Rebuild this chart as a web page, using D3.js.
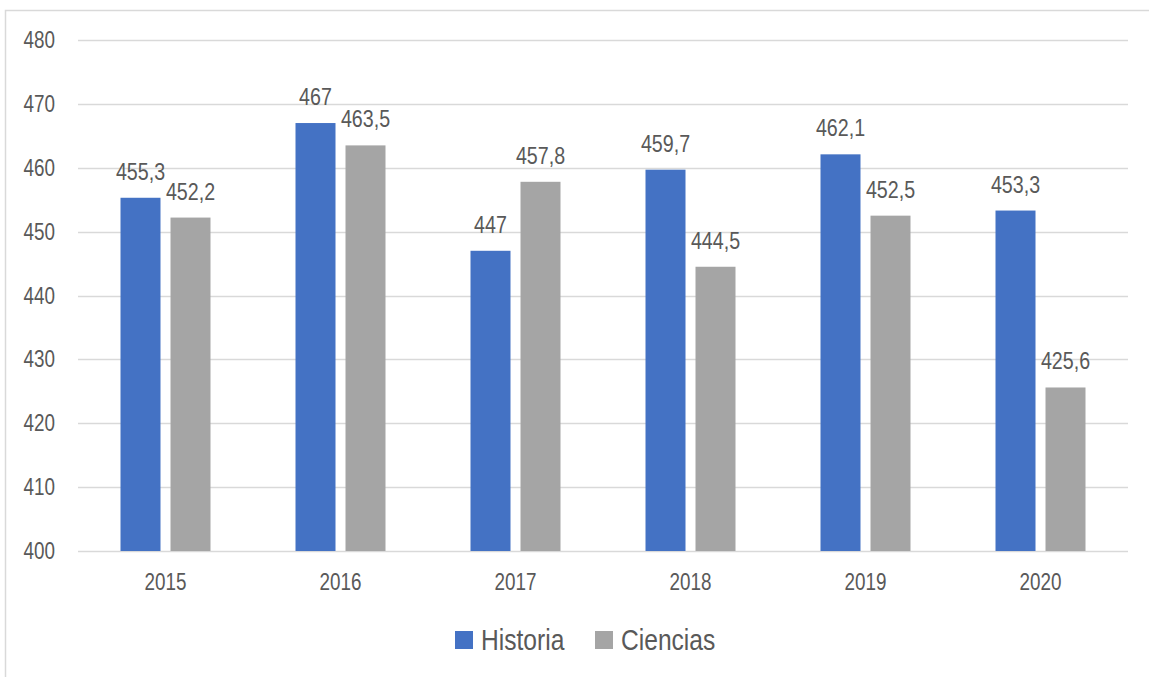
<!DOCTYPE html>
<html>
<head>
<meta charset="utf-8">
<script src="https://cdn.jsdelivr.net/npm/d3@7"></script>
<style>
  body { margin: 0; background: #fff; }
  svg text { font-family: "Liberation Sans", Arial, sans-serif; fill: #595959; }
</style>
</head>
<body>
<div id="chart"></div>
<script>
// Chart data
const years = ["2015", "2016", "2017", "2018", "2019", "2020"];
const historia = [455.3, 467, 447, 459.7, 462.1, 453.3];
const ciencias = [452.2, 463.5, 457.8, 444.5, 452.5, 425.6];
const seriesNames = ["Historia", "Ciencias"];
const yTicks = [400, 410, 420, 430, 440, 450, 460, 470, 480];

const width = 1149, height = 677;
const colors = ["#4472C4", "#A5A5A5"];
const narrow = 0.82; // squeeze text horizontally, like a narrow face

// place text at (x, y) with a narrow horizontal scale
function at(x, y) {
    return `translate(${x},${y}) scale(${narrow},1)`;
}

const svg = d3.select("#chart").append("svg")
    .attr("width", width)
    .attr("height", height);

// outer chart border (only left/top visible in the picture)
svg.append("rect")
    .attr("x", 5.5)
    .attr("y", 10.5)
    .attr("width", 1200)
    .attr("height", 700)
    .attr("fill", "none")
    .attr("stroke", "#d9d9d9")
    .attr("stroke-width", 1.5);

const x0 = d3.scaleBand()
    .domain(years)
    .range([78, 1128]);

const x1 = d3.scaleBand()
    .domain(seriesNames)
    .range([x0.bandwidth() / 2 - 45, x0.bandwidth() / 2 + 45])
    .paddingInner(0.2);

const y = d3.scaleLinear()
    .domain([400, 480])
    .range([551, 40]);

// gridlines
svg.append("g")
    .selectAll("line")
    .data(yTicks)
    .join("line")
    .attr("x1", 78)
    .attr("x2", 1128)
    .attr("y1", d => Math.round(y(d)) + 0.5)
    .attr("y2", d => Math.round(y(d)) + 0.5)
    .attr("stroke", "#d9d9d9")
    .attr("stroke-width", 1.5);

// y axis labels
svg.append("g")
    .selectAll("text")
    .data(yTicks)
    .join("text")
    .attr("transform", d => at(55, y(d) + 8))
    .attr("text-anchor", "end")
    .attr("font-size", "23px")
    .text(d => d);

// bars
const rows = years.map((yr, i) => ({ year: yr, values: [historia[i], ciencias[i]] }));

const group = svg.append("g")
    .selectAll("g")
    .data(rows)
    .join("g")
    .attr("transform", d => `translate(${x0(d.year)},0)`);

group.selectAll("rect")
    .data(d => d.values.map((v, k) => ({ key: seriesNames[k], value: v, k })))
    .join("rect")
    .attr("x", d => x1(d.key))
    .attr("width", x1.bandwidth())
    .attr("y", d => y(d.value))
    .attr("height", d => y(400) - y(d.value))
    .attr("fill", d => colors[d.k]);

// data labels
group.selectAll("text")
    .data(d => d.values.map((v, k) => ({ key: seriesNames[k], value: v })))
    .join("text")
    .attr("transform", d => at(x1(d.key) + x1.bandwidth() / 2, y(d.value) - 18))
    .attr("text-anchor", "middle")
    .attr("font-size", "24px")
    .text(d => String(d.value).replace(".", ","));

// x axis labels
svg.append("g")
    .selectAll("text")
    .data(years)
    .join("text")
    .attr("transform", d => at(x0(d) + x0.bandwidth() / 2, 590))
    .attr("text-anchor", "middle")
    .attr("font-size", "23px")
    .text(d => d);

// legend
const legend = svg.append("g");
const legendX = [455, 595];
seriesNames.forEach((name, i) => {
    legend.append("rect")
        .attr("x", legendX[i])
        .attr("y", 631)
        .attr("width", 18)
        .attr("height", 18)
        .attr("fill", colors[i]);
    legend.append("text")
        .attr("transform", at(legendX[i] + 26, 650))
        .attr("font-size", "30px")
        .text(name);
});
</script>
</body>
</html>
